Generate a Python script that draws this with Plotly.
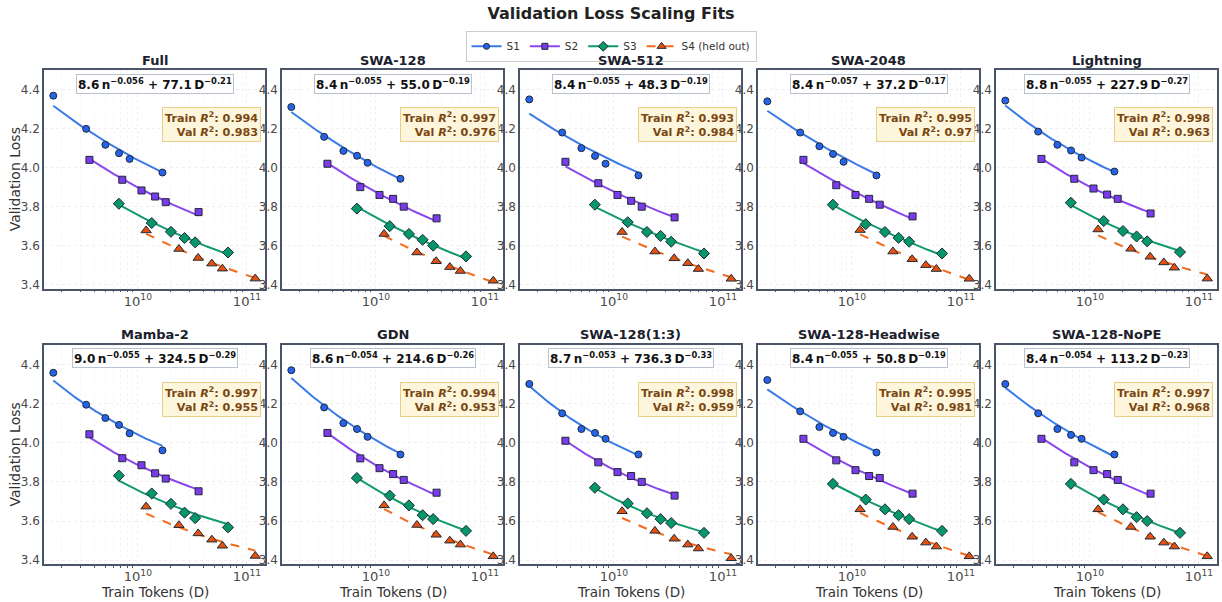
import numpy as np
import plotly.graph_objects as go

W, H = 1222, 602

panel_titles = ["Full", "SWA-128", "SWA-512", "SWA-2048", "Lightning",
                "Mamba-2", "GDN", "SWA-128(1:3)", "SWA-128-Headwise", "SWA-128-NoPE"]
coef_A = [8.6, 8.4, 8.4, 8.4, 8.8, 9.0, 8.6, 8.7, 8.4, 8.4]
coef_a = [0.056, 0.055, 0.055, 0.057, 0.055, 0.055, 0.054, 0.053, 0.055, 0.054]
coef_B = [77.1, 55.0, 48.3, 37.2, 227.9, 324.5, 214.6, 736.3, 50.8, 113.2]
coef_b = [0.21, 0.19, 0.19, 0.17, 0.27, 0.29, 0.26, 0.33, 0.19, 0.23]
train_r2 = [0.994, 0.997, 0.993, 0.995, 0.998, 0.997, 0.994, 0.998, 0.995, 0.997]
val_r2 = [0.983, 0.976, 0.984, 0.97, 0.963, 0.955, 0.953, 0.959, 0.981, 0.968]

series_names = ["S1", "S2", "S3", "S4 (held out)"]
tokens_s1 = [1.68e9, 3.36e9, 5.04e9, 6.72e9, 8.4e9, 1.68e10]
tokens_s2 = [3.6e9, 7.2e9, 1.08e10, 1.44e10, 1.8e10, 3.6e10]
tokens_s3 = [6.7e9, 1.34e10, 2.01e10, 2.68e10, 3.35e10, 6.7e10]
tokens_s4 = [1.19e10, 2.38e10, 3.57e10, 4.76e10, 5.95e10, 1.19e11]
tokens = [tokens_s1, tokens_s2, tokens_s3, tokens_s4]

loss_full = [[4.369, 4.199, 4.117, 4.074, 4.045, 3.975],
             [4.040, 3.938, 3.883, 3.852, 3.823, 3.772],
             [3.815, 3.716, 3.671, 3.639, 3.617, 3.565],
             [3.678, 3.583, 3.537, 3.508, 3.482, 3.431]]
loss_swa128 = [[4.311, 4.158, 4.086, 4.061, 4.025, 3.943],
               [4.02, 3.90, 3.86, 3.84, 3.80, 3.74],
               [3.79, 3.70, 3.66, 3.63, 3.60, 3.545],
               [3.66, 3.565, 3.52, 3.49, 3.47, 3.42]]
loss_swa512 = [[4.35, 4.18, 4.10, 4.06, 4.02, 3.96],
               [4.03, 3.92, 3.86, 3.83, 3.80, 3.745],
               [3.81, 3.72, 3.67, 3.65, 3.62, 3.56],
               [3.67, 3.57, 3.535, 3.51, 3.48, 3.43]]
loss_swa2048 = [[4.34, 4.18, 4.11, 4.07, 4.03, 3.96],
                [4.04, 3.91, 3.86, 3.84, 3.81, 3.75],
                [3.81, 3.71, 3.67, 3.64, 3.62, 3.56],
                [3.68, 3.57, 3.53, 3.50, 3.48, 3.43]]
loss_lightning = [[4.344, 4.185, 4.117, 4.088, 4.052, 3.980],
                  [4.045, 3.943, 3.893, 3.862, 3.840, 3.765],
                  [3.820, 3.726, 3.675, 3.647, 3.622, 3.567],
                  [3.683, 3.584, 3.543, 3.514, 3.487, 3.431]]
loss_mamba2 = [[4.357, 4.194, 4.126, 4.091, 4.048, 3.961],
               [4.043, 3.921, 3.885, 3.844, 3.817, 3.752],
               [3.832, 3.741, 3.688, 3.643, 3.615, 3.568],
               [3.674, 3.579, 3.537, 3.505, 3.474, 3.422]]
loss_gdn = [[4.37, 4.18, 4.10, 4.07, 4.03, 3.94],
            [4.05, 3.92, 3.87, 3.84, 3.81, 3.745],
            [3.82, 3.73, 3.68, 3.63, 3.61, 3.55],
            [3.68, 3.58, 3.53, 3.50, 3.48, 3.42]]
loss_swa128_13 = [[4.30, 4.15, 4.07, 4.05, 4.02, 3.94],
                  [4.01, 3.90, 3.85, 3.83, 3.80, 3.73],
                  [3.77, 3.69, 3.64, 3.61, 3.59, 3.54],
                  [3.65, 3.55, 3.51, 3.48, 3.46, 3.41]]
loss_headwise = [[4.32, 4.16, 4.08, 4.05, 4.03, 3.95],
                 [4.02, 3.91, 3.86, 3.83, 3.82, 3.74],
                 [3.79, 3.71, 3.66, 3.63, 3.61, 3.55],
                 [3.66, 3.57, 3.52, 3.49, 3.47, 3.42]]
loss_nope = [[4.30, 4.15, 4.07, 4.04, 4.02, 3.94],
             [4.02, 3.90, 3.86, 3.84, 3.81, 3.74],
             [3.79, 3.71, 3.66, 3.62, 3.60, 3.54],
             [3.66, 3.57, 3.52, 3.49, 3.47, 3.42]]
losses = [loss_full, loss_swa128, loss_swa512, loss_swa2048, loss_lightning,
          loss_mamba2, loss_gdn, loss_swa128_13, loss_headwise, loss_nope]

line_colors = ["#3b7be8", "#8b46ec", "#129a6c", "#f26a1e"]
marker_colors = ["#2563eb", "#7c3aed", "#059669", "#e4510f"]
marker_symbols = ["circle", "square", "diamond", "triangle-up"]
marker_sizes = [7, 7, 8.5, 9]
FONT = "DejaVu Sans"

# panel geometry (pixels)
col_left = [44, 282, 520, 758, 996]
panel_w = 221
row_top = [70.5, 346.5]
panel_h = [219.5, 220.5]

fig = go.Figure()
layout = {}
annotations = []

for i in range(10):
    r, c = divmod(i, 5)
    ax = "" if i == 0 else str(i + 1)
    xref, yref = "x" + ax, "y" + ax
    A, a, B, b = coef_A[i], coef_a[i], coef_B[i], coef_b[i]
    for s in range(4):
        D = np.array(tokens[s])
        L = np.array(losses[i][s])
        # least-squares size term with the displayed data exponent
        size_term = np.mean(L - B * D ** (-b))
        Dc = np.logspace(np.log10(D[0]), np.log10(D[-1]), 60)
        Lc = size_term + B * Dc ** (-b)
        fig.add_trace(go.Scatter(
            x=Dc, y=Lc, mode="lines", xaxis=xref, yaxis=yref, showlegend=False,
            line=dict(color=line_colors[s], width=2, dash="dash" if s == 3 else "solid"),
            hoverinfo="skip"))
        fig.add_trace(go.Scatter(
            x=D, y=L, mode="markers", xaxis=xref, yaxis=yref, showlegend=False,
            marker=dict(symbol=marker_symbols[s], size=marker_sizes[s], color=marker_colors[s],
                        line=dict(color="#1f2a37", width=1))))
    x0 = col_left[c]
    x1 = x0 + panel_w
    y0 = row_top[r]
    y1 = y0 + panel_h[r]
    layout["xaxis" + ax] = dict(
        type="log", range=[9.14, 11.165], domain=[x0 / W, x1 / W], anchor=yref,
        showline=True, mirror=True, linecolor="#4a5568", linewidth=1.5,
        showgrid=True, gridcolor="#efefef", griddash="dot", gridwidth=1,
        dtick=1, exponentformat="power", ticks="",
        tickfont=dict(family=FONT, size=10.5, color="#4a4a4a"),
        minor=dict(ticks="outside", ticklen=2, tickcolor="#4a5568", showgrid=True,
                   gridcolor="#f5f5f5", griddash="dot"),
        zeroline=False)
    layout["yaxis" + ax] = dict(
        range=[3.38, 4.50], domain=[1 - y1 / H, 1 - y0 / H], anchor=xref,
        showline=True, mirror=True, linecolor="#4a5568", linewidth=1.5,
        showgrid=True, gridcolor="#efefef", griddash="dot", gridwidth=1,
        tick0=3.4, dtick=0.2, tickformat=".1f", ticks="",
        tickfont=dict(family=FONT, size=12, color="#4a4a4a"), zeroline=False)
    xc = (x0 + x1) / 2
    annotations.append(dict(
        text="<b>" + panel_titles[i] + "</b>", x=xc / W, y=1 - (y0 - 10) / H, xref="paper", yref="paper",
        xanchor="center", yanchor="middle", showarrow=False,
        font=dict(family=FONT, size=13, color="#1a202c")))
    formula = (f"<b>{A:.1f}\u2009n<sup>−{a:g}</sup> + {B:.1f}\u2009D<sup>−{b:g}</sup></b>")
    annotations.append(dict(
        text=formula, x=xc / W, y=1 - (y0 + 13.5) / H, xref="paper", yref="paper",
        xanchor="center", yanchor="middle", showarrow=False,
        font=dict(family=FONT, size=12, color="#111"),
        bgcolor="white", bordercolor="#b8c2d0", borderwidth=1, borderpad=1))
    r2 = (f"<b>Train <i>R</i><sup>2</sup>: {train_r2[i]}</b><br>"
          f"<b>Val <i>R</i><sup>2</sup>: {val_r2[i]}</b>")
    annotations.append(dict(
        text=r2, x=(x1 - 4) / W, y=1 - (y0 + 37.5) / H, xref="paper", yref="paper",
        xanchor="right", yanchor="top", align="right", showarrow=False,
        font=dict(family=FONT, size=11.2, color="#7a4612"),
        bgcolor="#fdf6dc", bordercolor="#e6cf86", borderwidth=1, borderpad=2))
    if c == 0:
        annotations.append(dict(
            text="Validation Loss", x=15 / W, y=1 - (y0 + panel_h[r] / 2) / H, xref="paper", yref="paper",
            xanchor="center", yanchor="middle", textangle=-90, showarrow=False,
            font=dict(family=FONT, size=14, color="#333")))
    if r == 1:
        annotations.append(dict(
            text="Train Tokens (D)", x=xc / W, y=1 - 594.5 / H, xref="paper", yref="paper",
            xanchor="center", yanchor="middle", showarrow=False,
            font=dict(family=FONT, size=13.5, color="#333")))

# legend entries
for s in range(4):
    fig.add_trace(go.Scatter(
        x=[None], y=[None], mode="lines+markers", name=series_names[s],
        line=dict(color=line_colors[s], width=2, dash="dash" if s == 3 else "solid"),
        marker=dict(symbol=marker_symbols[s], size=marker_sizes[s] - 1, color=marker_colors[s],
                    line=dict(color="#1f2a37", width=1))))

fig.update_layout(
    width=W, height=H, margin=dict(l=0, r=0, t=0, b=0),
    paper_bgcolor="white", plot_bgcolor="white",
    font=dict(family=FONT, color="#333"),
    title=dict(text="<b>Validation Loss Scaling Fits</b>", x=0.5, xanchor="center",
               y=1 - 13 / H, yanchor="middle", font=dict(family=FONT, size=16, color="#222")),
    legend=dict(orientation="h", x=0.5, xanchor="center", y=1 - 31 / H, yanchor="top",
                bordercolor="#cccccc", borderwidth=1, bgcolor="white",
                font=dict(family=FONT, size=10.5, color="#333"), itemwidth=30,
                tracegroupgap=0),
    annotations=annotations,
    showlegend=True,
    **layout)

fig.write_html("out.html")
